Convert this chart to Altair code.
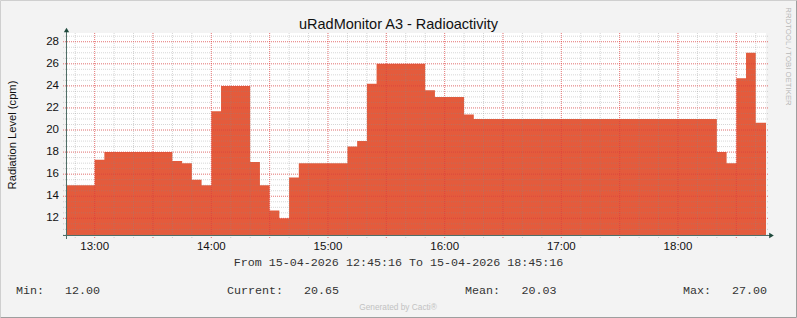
import altair as alt
import pandas as pd

# ---------------- data ----------------
step_times = ["12:45:16", "13:00", "13:05", "13:40", "13:45", "13:50", "13:55",
              "14:00", "14:05", "14:20", "14:25", "14:30", "14:35", "14:40",
              "14:45", "15:10", "15:15", "15:20", "15:25", "15:50", "15:55",
              "16:10", "16:15", "18:20", "18:25", "18:30", "18:35", "18:40"]
step_values = [15.0, 17.3, 18.0, 17.2, 17.0, 15.5, 15.0,
               21.7, 24.0, 17.1, 15.0, 12.7, 12.0, 15.7,
               17.0, 18.5, 19.0, 24.2, 26.0, 23.6, 23.0,
               21.4, 21.0, 18.0, 17.0, 24.7, 27.0, 20.65]
start_time = "12:45:16"
end_time = "18:45:16"

y_tick_values = [12, 14, 16, 18, 20, 22, 24, 26, 28]
x_tick_labels = ["13:00", "14:00", "15:00", "16:00", "17:00", "18:00"]

title_text = "uRadMonitor A3 - Radioactivity"
y_title = "Radiation Level (cpm)"
range_text = "From 15-04-2026 12:45:16 To 15-04-2026 18:45:16"
legend_labels = ["Min:", "Current:", "Mean:", "Max:"]
legend_values = ["12.00", "20.65", "20.03", "27.00"]
credit_text = "Generated by Cacti®"
side_text = "RRDTOOL / TOBI OETIKER"


def hours(s):
    parts = [float(p) for p in s.split(":")]
    while len(parts) < 3:
        parts.append(0.0)
    return parts[0] + parts[1] / 60 + parts[2] / 3600


t0, t1 = hours(start_time), hours(end_time)
area_df = pd.DataFrame({
    "t": [hours(s) for s in step_times] + [t1],
    "v": step_values + [step_values[-1]],
})

W, H = 700, 203
Y_DOMAIN = [10.4, 28.79]
xs = alt.Scale(domain=[t0, t1], nice=False, zero=False)
ys = alt.Scale(domain=Y_DOMAIN, nice=False, zero=False)

# grid positions (10-min minor / 30-min major, 0.5 minor / 2 major)
minor_x = [h + m / 60 for h in range(12, 19) for m in range(0, 60, 10) if t0 < h + m / 60 < t1]
major_x = [h + m / 60 for h in range(12, 19) for m in (0, 30) if t0 < h + m / 60 < t1]
minor_y = [10.5 + 0.5 * i for i in range(37)]
major_y = y_tick_values

AX_FONT = "Liberation Sans"

area = alt.Chart(area_df).mark_area(
    interpolate="step-after", color="#E45B3C", opacity=1, clip=True
).encode(
    x=alt.X("t:Q", scale=xs, axis=None),
    y=alt.Y("v:Q", scale=ys, axis=None),
)

def vgrid(vals, color, op):
    return alt.Chart(pd.DataFrame({"g": vals})).mark_rule(
        color=color, opacity=op, strokeDash=[1, 1], strokeWidth=1
    ).encode(x=alt.X("g:Q", scale=xs, axis=None), y=alt.value(0), y2=alt.value(H + 2))

def hgrid(vals, color, op):
    return alt.Chart(pd.DataFrame({"g": vals})).mark_rule(
        color=color, opacity=op, strokeDash=[1, 1], strokeWidth=1
    ).encode(y=alt.Y("g:Q", scale=ys, axis=None), x=alt.value(-3), x2=alt.value(W + 3))

grid = [
    hgrid(minor_y, "#8A8A8A", 0.35),
    vgrid(minor_x, "#8A8A8A", 0.35),
    hgrid(major_y, "#FF2020", 0.5),
    vgrid(major_x, "#FF2020", 0.5),
]

# tick labels through the scales
xlab_df = pd.DataFrame({"t": [hours(s) for s in x_tick_labels], "s": x_tick_labels})
xlabels = alt.Chart(xlab_df).mark_text(
    font=AX_FONT, fontSize=11.5, color="#111", align="center", baseline="alphabetic"
).encode(x=alt.X("t:Q", scale=xs, axis=None), y=alt.value(H + 14), text="s:N")

ylab_df = pd.DataFrame({"v": y_tick_values, "s": [str(v) for v in y_tick_values]})
ylabels = alt.Chart(ylab_df).mark_text(
    font=AX_FONT, fontSize=11.5, color="#111", align="right", baseline="middle"
).encode(y=alt.Y("v:Q", scale=ys, axis=None), x=alt.value(-7), text="s:N")

one = pd.DataFrame({"k": [0]})
AXIS_COLOR = "#4F6E66"
ARROW_COLOR = "#1F4A3D"
y_axis_line = alt.Chart(one).mark_rule(color=AXIS_COLOR, strokeWidth=1).encode(
    x=alt.value(0.5), y=alt.value(-2), y2=alt.value(H + 3))
x_axis_line = alt.Chart(one).mark_rule(color=AXIS_COLOR, strokeWidth=1).encode(
    y=alt.value(H - 0.5), x=alt.value(-3), x2=alt.value(W + 4))
y_arrow = alt.Chart(one).mark_point(shape="triangle-up", filled=True, size=28,
                                    color=ARROW_COLOR, opacity=1).encode(
    x=alt.value(0.5), y=alt.value(-3))
x_arrow = alt.Chart(one).mark_point(shape="triangle-right", filled=True, size=28,
                                    color=ARROW_COLOR, opacity=1).encode(
    x=alt.value(W + 5.5), y=alt.value(H - 0.5))

# ---------------- annotation text (pixel offsets from the plot origin) ----------------
OX, OY = 66, 33
title = alt.Chart(pd.DataFrame({"s": [title_text]})).mark_text(
    font=AX_FONT, fontSize=14.5, color="#111", align="center", baseline="alphabetic"
).encode(x=alt.value(398.5 - OX), y=alt.value(28.5 - OY), text="s:N")

ytitle = alt.Chart(pd.DataFrame({"s": [y_title]})).mark_text(
    font=AX_FONT, fontSize=11.2, color="#111", align="center", baseline="alphabetic", angle=270
).encode(x=alt.value(15.5 - OX), y=alt.value(135 - OY), text="s:N")

MONO = "Liberation Mono"
rng = alt.Chart(pd.DataFrame({"s": [range_text]})).mark_text(
    font=MONO, fontSize=11.7, color="#333", align="center", baseline="alphabetic"
).encode(x=alt.value(398.5 - OX), y=alt.value(266 - OY), text="s:N")

leg_df = pd.DataFrame({
    "s": legend_labels + legend_values,
    "px": [16 - OX, 227 - OX, 465 - OX, 683 - OX, 65 - OX, 304 - OX, 521.5 - OX, 732 - OX],
})
legend = alt.Chart(leg_df).mark_text(
    font=MONO, fontSize=11.7, color="#333", align="left", baseline="alphabetic"
).encode(x=alt.X("px:Q", scale=None), y=alt.value(294 - OY), text="s:N")

credit = alt.Chart(pd.DataFrame({"s": [credit_text]})).mark_text(
    font=AX_FONT, fontSize=8.3, color="#C2C2C2", align="center", baseline="alphabetic"
).encode(x=alt.value(398 - OX), y=alt.value(309.5 - OY), text="s:N")

side = alt.Chart(pd.DataFrame({"s": [side_text]})).mark_text(
    font=AX_FONT, fontSize=7.8, color="#B8B8B8", align="center", baseline="middle", angle=90
).encode(x=alt.value(787.5 - OX), y=alt.value(56.5 - OY), text="s:N")

# outer frame
frame_light = alt.Chart(one).mark_rule(color="#CFCFCF", strokeWidth=1).encode(
    x=alt.value(0.5 - OX), y=alt.value(0.5 - OY), x2=alt.value(796.5 - OX), y2=alt.value(0.5 - OY))
frame_light2 = alt.Chart(one).mark_rule(color="#CFCFCF", strokeWidth=1).encode(
    x=alt.value(0.5 - OX), x2=alt.value(0.5 - OX), y=alt.value(0.5 - OY), y2=alt.value(317.5 - OY))
frame_dark = alt.Chart(one).mark_rule(color="#9E9E9E", strokeWidth=1).encode(
    x=alt.value(796.5 - OX), x2=alt.value(796.5 - OX), y=alt.value(0.5 - OY), y2=alt.value(317.5 - OY))
frame_dark2 = alt.Chart(one).mark_rule(color="#9E9E9E", strokeWidth=1).encode(
    x=alt.value(0.5 - OX), x2=alt.value(796.5 - OX), y=alt.value(317.5 - OY), y2=alt.value(317.5 - OY))

chart = alt.layer(
    area, *grid, xlabels, ylabels, y_axis_line, x_axis_line, y_arrow, x_arrow,
    title, ytitle, rng, legend, credit, side,
    frame_light, frame_light2, frame_dark, frame_dark2,
).properties(
    width=W, height=H,
    autosize=alt.AutoSizeParams(type="none"),
    padding={"left": OX, "top": OY, "right": 797 - OX - W, "bottom": 318 - OY - H},
    background="#F3F3F3",
).configure_view(fill="white", strokeWidth=0)

chart.save("out.html", embed_options={"renderer": "svg", "actions": False})
